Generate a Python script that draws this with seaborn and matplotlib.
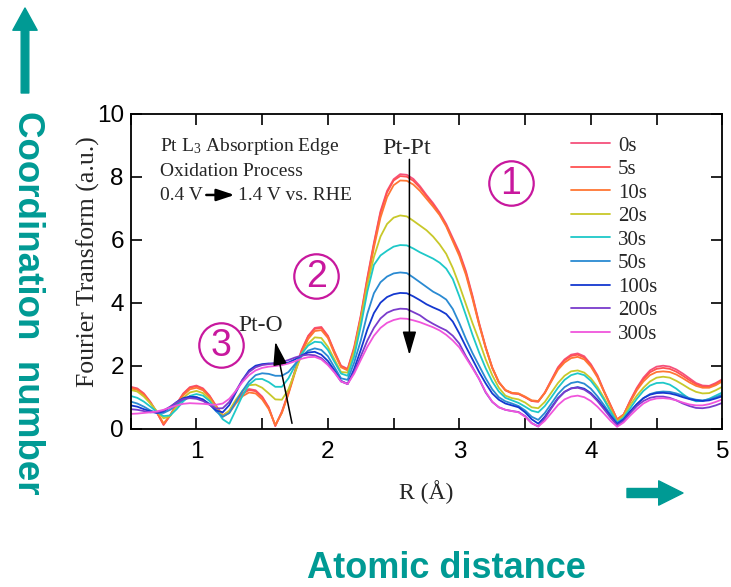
import numpy as np
import pandas as pd
import matplotlib
matplotlib.use("Agg")
import matplotlib.pyplot as plt
from matplotlib.ticker import MultipleLocator
import seaborn as sns

# Radial distance grid (Å)
R = [0.50, 0.55, 0.60, 0.65, 0.70, 0.75, 0.80, 0.85, 0.90, 0.95,
     1.00, 1.05, 1.10, 1.15, 1.20, 1.25, 1.30, 1.35, 1.40, 1.45,
     1.50, 1.55, 1.60, 1.65, 1.70, 1.75, 1.80, 1.85, 1.90, 1.95,
     2.00, 2.05, 2.10, 2.15, 2.20, 2.25, 2.30, 2.35, 2.40, 2.45,
     2.50, 2.55, 2.60, 2.65, 2.70, 2.75, 2.80, 2.85, 2.90, 2.95,
     3.00, 3.05, 3.10, 3.15, 3.20, 3.25, 3.30, 3.35, 3.40, 3.45,
     3.50, 3.55, 3.60, 3.65, 3.70, 3.75, 3.80, 3.85, 3.90, 3.95,
     4.00, 4.05, 4.10, 4.15, 4.20, 4.25, 4.30, 4.35, 4.40, 4.45,
     4.50, 4.55, 4.60, 4.65, 4.70, 4.75, 4.80, 4.85, 4.90, 4.95,
     5.00]

# |FT| magnitude for each oxidation time
ft_0s = [1.33, 1.28, 1.12, 0.85, 0.52, 0.12, 0.42, 0.80, 1.12, 1.32,
         1.37, 1.28, 1.05, 0.72, 0.42, 0.55, 0.88, 1.13, 1.26, 1.22,
         1.02, 0.68, 0.08, 0.55, 1.15, 1.85, 2.50, 2.95, 3.20, 3.23,
         2.95, 2.45, 2.00, 1.90, 2.60, 3.60, 4.80, 5.90, 6.90, 7.55,
         7.92, 8.08, 8.06, 7.93, 7.70, 7.42, 7.16, 6.86, 6.50, 6.05,
         5.60, 5.00, 4.22, 3.36, 2.60, 1.95, 1.48, 1.22, 1.12, 1.10,
         1.00, 0.88, 0.86, 1.15, 1.55, 1.95, 2.20, 2.35, 2.39, 2.30,
         2.05, 1.70, 1.20, 0.75, 0.30, 0.45, 0.90, 1.30, 1.62, 1.85,
         1.97, 2.00, 1.97, 1.88, 1.75, 1.60, 1.45, 1.37, 1.36, 1.45,
         1.57]
ft_5s = [1.31, 1.26, 1.10, 0.83, 0.50, 0.13, 0.42, 0.79, 1.10, 1.30,
         1.35, 1.26, 1.03, 0.71, 0.42, 0.55, 0.86, 1.10, 1.23, 1.19,
         1.00, 0.66, 0.10, 0.52, 1.13, 1.83, 2.47, 2.93, 3.17, 3.20,
         2.93, 2.43, 1.98, 1.88, 2.55, 3.55, 4.75, 5.85, 6.85, 7.50,
         7.88, 8.02, 8.00, 7.87, 7.65, 7.38, 7.12, 6.82, 6.45, 6.00,
         5.55, 4.95, 4.18, 3.33, 2.58, 1.93, 1.47, 1.22, 1.13, 1.11,
         1.00, 0.88, 0.86, 1.14, 1.53, 1.92, 2.17, 2.31, 2.35, 2.26,
         2.02, 1.67, 1.19, 0.74, 0.29, 0.45, 0.88, 1.27, 1.57, 1.79,
         1.90, 1.93, 1.90, 1.81, 1.68, 1.54, 1.41, 1.34, 1.33, 1.42,
         1.54]
ft_10s = [1.28, 1.23, 1.07, 0.82, 0.52, 0.17, 0.42, 0.76, 1.06, 1.25,
          1.30, 1.22, 1.00, 0.70, 0.38, 0.50, 0.80, 1.03, 1.15, 1.12,
          0.93, 0.62, 0.12, 0.50, 1.10, 1.78, 2.40, 2.85, 3.10, 3.13,
          2.88, 2.38, 1.95, 1.85, 2.50, 3.50, 4.65, 5.75, 6.70, 7.35,
          7.73, 7.88, 7.87, 7.75, 7.55, 7.30, 7.05, 6.78, 6.42, 5.95,
          5.48, 4.88, 4.12, 3.30, 2.56, 1.93, 1.48, 1.23, 1.14, 1.12,
          1.02, 0.90, 0.88, 1.13, 1.50, 1.87, 2.10, 2.24, 2.28, 2.20,
          1.97, 1.63, 1.17, 0.72, 0.28, 0.45, 0.85, 1.22, 1.50, 1.70,
          1.80, 1.82, 1.80, 1.72, 1.60, 1.47, 1.36, 1.30, 1.30, 1.38,
          1.50]
ft_20s = [1.23, 1.18, 1.02, 0.80, 0.55, 0.33, 0.40, 0.70, 0.98, 1.15,
          1.20, 1.13, 0.93, 0.65, 0.40, 0.58, 0.92, 1.20, 1.38, 1.40,
          1.30, 1.12, 0.93, 0.92, 1.25, 1.80, 2.35, 2.70, 2.90, 2.88,
          2.60, 2.20, 1.80, 1.78, 2.45, 3.45, 4.55, 5.45, 6.10, 6.50,
          6.70, 6.77, 6.74, 6.60, 6.45, 6.30, 6.10, 5.85, 5.55, 5.10,
          4.55, 3.95, 3.35, 2.80, 2.20, 1.70, 1.30, 1.05, 0.97, 0.93,
          0.83, 0.68, 0.65, 0.85, 1.15, 1.45, 1.68, 1.82, 1.85, 1.78,
          1.60, 1.33, 0.98, 0.60, 0.22, 0.40, 0.75, 1.05, 1.30, 1.50,
          1.62, 1.65, 1.62, 1.52, 1.40, 1.27, 1.17, 1.12, 1.13, 1.22,
          1.33]
ft_30s = [1.04, 0.98, 0.86, 0.70, 0.53, 0.40, 0.42, 0.62, 0.87, 1.04,
          1.10, 1.05, 0.88, 0.60, 0.30, 0.16, 0.60, 1.05, 1.40, 1.57,
          1.58, 1.48, 1.33, 1.33, 1.60, 2.00, 2.38, 2.64, 2.76, 2.74,
          2.50, 2.12, 1.75, 1.68, 2.30, 3.25, 4.35, 5.20, 5.50, 5.65,
          5.78, 5.83, 5.82, 5.72, 5.60, 5.50, 5.40, 5.27, 5.08, 4.75,
          4.20, 3.60, 2.98, 2.42, 1.92, 1.50, 1.18, 0.98, 0.90, 0.82,
          0.70, 0.57, 0.52, 0.72, 1.00, 1.30, 1.55, 1.70, 1.76, 1.70,
          1.52, 1.25, 0.92, 0.55, 0.20, 0.35, 0.65, 0.95, 1.20, 1.37,
          1.45, 1.46, 1.40, 1.27, 1.10, 0.95, 0.87, 0.88, 0.95, 1.05,
          1.15]
ft_50s = [0.86, 0.80, 0.70, 0.58, 0.50, 0.50, 0.60, 0.77, 0.92, 1.00,
          1.00, 0.93, 0.78, 0.55, 0.38, 0.50, 0.85, 1.20, 1.50, 1.70,
          1.76, 1.74, 1.68, 1.68, 1.80, 2.05, 2.30, 2.48, 2.55, 2.50,
          2.30, 1.95, 1.60, 1.55, 2.10, 2.80, 3.65, 4.30, 4.65, 4.83,
          4.93, 4.96, 4.94, 4.80, 4.65, 4.50, 4.35, 4.24, 4.10, 3.80,
          3.35, 2.85, 2.40, 2.00, 1.60, 1.25, 1.00, 0.87, 0.80, 0.72,
          0.58, 0.38, 0.28, 0.50, 0.80, 1.10, 1.32, 1.45, 1.49, 1.43,
          1.27, 1.03, 0.75, 0.45, 0.18, 0.30, 0.55, 0.78, 0.97, 1.10,
          1.16, 1.18, 1.17, 1.12, 1.05, 0.97, 0.92, 0.90, 0.93, 1.00,
          1.08]
ft_100s = [0.74, 0.70, 0.62, 0.55, 0.50, 0.55, 0.68, 0.85, 0.97, 1.02,
           1.00, 0.92, 0.77, 0.58, 0.52, 0.75, 1.15, 1.55, 1.85, 2.00,
           2.05, 2.07, 2.07, 2.07, 2.10, 2.20, 2.33, 2.42, 2.44, 2.35,
           2.15, 1.85, 1.52, 1.42, 1.90, 2.50, 3.15, 3.67, 4.00, 4.18,
           4.27, 4.31, 4.30, 4.20, 4.08, 3.95, 3.85, 3.76, 3.64, 3.40,
           3.02, 2.60, 2.20, 1.80, 1.44, 1.12, 0.92, 0.80, 0.74, 0.68,
           0.52, 0.30, 0.16, 0.38, 0.68, 0.97, 1.17, 1.28, 1.32, 1.27,
           1.13, 0.92, 0.67, 0.40, 0.15, 0.30, 0.55, 0.78, 0.97, 1.08,
           1.13, 1.14, 1.12, 1.07, 1.00, 0.94, 0.90, 0.88, 0.90, 0.96,
           1.03]
ft_200s = [0.62, 0.60, 0.56, 0.52, 0.52, 0.58, 0.70, 0.84, 0.94, 0.97,
           0.95, 0.88, 0.76, 0.64, 0.65, 0.85, 1.20, 1.55, 1.80, 1.95,
           2.02, 2.05, 2.08, 2.12, 2.18, 2.26, 2.32, 2.35, 2.33, 2.24,
           2.05, 1.80, 1.50, 1.42, 1.80, 2.30, 2.80, 3.20, 3.50, 3.68,
           3.77, 3.81, 3.80, 3.70, 3.60, 3.45, 3.33, 3.22, 3.12, 2.95,
           2.70, 2.30, 1.95, 1.58, 1.15, 0.85, 0.68, 0.60, 0.56, 0.53,
           0.40, 0.18, 0.07, 0.33, 0.65, 0.95, 1.17, 1.28, 1.30, 1.24,
           1.10, 0.88, 0.62, 0.35, 0.10, 0.25, 0.50, 0.72, 0.88, 0.98,
           1.02, 1.02, 0.98, 0.90, 0.80, 0.72, 0.66, 0.65, 0.68, 0.74,
           0.82]
ft_300s = [0.47, 0.48, 0.50, 0.52, 0.55, 0.60, 0.67, 0.74, 0.79, 0.81,
           0.80, 0.79, 0.77, 0.76, 0.80, 0.95, 1.20, 1.48, 1.70, 1.85,
           1.93, 1.97, 1.99, 2.02, 2.07, 2.14, 2.22, 2.27, 2.28, 2.20,
           2.02, 1.78, 1.50, 1.42, 1.75, 2.18, 2.60, 2.95, 3.20, 3.36,
           3.45, 3.50, 3.49, 3.44, 3.38, 3.30, 3.22, 3.12, 2.98, 2.80,
           2.58, 2.25, 1.92, 1.58, 1.17, 0.86, 0.68, 0.60, 0.56, 0.52,
           0.38, 0.17, 0.07, 0.25, 0.50, 0.75, 0.93, 1.02, 1.05, 1.00,
           0.88, 0.70, 0.48, 0.25, 0.06, 0.20, 0.42, 0.62, 0.80, 0.91,
           0.96, 0.97, 0.95, 0.90, 0.83, 0.77, 0.74, 0.74, 0.78, 0.85,
           0.93]

times = ["0s", "5s", "10s", "20s", "30s", "50s", "100s", "200s", "300s"]
series = [ft_0s, ft_5s, ft_10s, ft_20s, ft_30s, ft_50s, ft_100s, ft_200s, ft_300s]
colors = ["#f5507c", "#ff5252", "#ff7633", "#c8c82a", "#1ec8c8",
          "#2a8ad2", "#1438d0", "#7a3ccc", "#f055dc"]

df = pd.DataFrame({
    "R": np.concatenate([R] * len(times)),
    "FT": np.concatenate(series),
    "time": np.repeat(times, len(R)),
})

sns.set_theme(style="ticks")
plt.rcParams["font.family"] = ["Liberation Serif", "DejaVu Serif"]
plt.rcParams["mathtext.fontset"] = "custom"
plt.rcParams["mathtext.rm"] = "Liberation Serif"
plt.rcParams["mathtext.it"] = "Liberation Serif:italic"

teal = "#009a94"
magenta = "#c8189e"
W, H = 731, 587

fig = plt.figure(figsize=(W / 100, H / 100), dpi=100)
ax = fig.add_axes([130.7 / W, (H - 428.7) / H, (722.3 - 130.7) / W, (428.7 - 113.7) / H])

sns.lineplot(data=df, x="R", y="FT", hue="time", hue_order=times,
             palette=colors, linewidth=1.3, estimator=None, sort=False, ax=ax)

ax.set_xlim(0.5, 5)
ax.set_ylim(0, 10)
ax.xaxis.set_major_locator(MultipleLocator(1))
ax.xaxis.set_minor_locator(MultipleLocator(0.5))
ax.yaxis.set_major_locator(MultipleLocator(2))
ax.tick_params(which="both", direction="in", length=8, width=1.2,
               top=True, right=True, colors="black")
ax.tick_params(axis="x", pad=9)
ax.tick_params(axis="y", pad=5)
for lab in ax.get_xticklabels() + ax.get_yticklabels():
    lab.set_fontfamily("Liberation Sans")
    lab.set_fontsize(17.5)
for sp in ax.spines.values():
    sp.set_linewidth(1.3)
    sp.set_color("black")

ax.set_xlabel("R (Å)", fontsize=17, labelpad=12)
ax.set_ylabel("Fourier Transform (a.u.)", fontsize=18.5, labelpad=2)
ax.yaxis.set_label_coords(-0.052, 0.53)

handles, labels = ax.get_legend_handles_labels()
ax.legend(handles, labels, loc="upper left", bbox_to_anchor=(571 / W, (H - 136) / H),
          bbox_transform=fig.transFigure, frameon=False, fontsize=15,
          handlelength=1.85, handletextpad=0.4, labelspacing=0.19,
          borderpad=0, borderaxespad=0)

# Experiment notes
note_fs = 14
ax.text(0.723, 8.97, "Pt L$_3$ Absorption Edge", fontsize=note_fs, va="center", ha="left")
ax.text(0.723, 8.15, "Oxidation Process", fontsize=note_fs, va="center", ha="left")
ax.text(0.723, 7.40, "0.4 V", fontsize=note_fs, va="center", ha="left")
ax.text(1.315, 7.40, "1.4 V vs. RHE", fontsize=note_fs, va="center", ha="left")
ax.annotate("", xy=(1.29, 7.42), xytext=(1.075, 7.42),
            arrowprops=dict(arrowstyle="-|>,head_length=0.9,head_width=0.3",
                            color="black", lw=1.8, shrinkA=0, shrinkB=0))

# Peak assignments
ax.text(2.60, 8.88, "Pt-Pt", fontsize=17.5, ha="center", va="center")
ax.annotate("", xy=(2.62, 2.34), xytext=(2.62, 8.55),
            arrowprops=dict(arrowstyle="-|>,head_length=1.2,head_width=0.35",
                            color="black", lw=1.1, shrinkA=0, shrinkB=0))
ax.text(1.49, 3.28, "Pt-O", fontsize=17, ha="center", va="center")
ax.annotate("", xy=(1.60, 2.76), xytext=(1.727, 0.17),
            arrowprops=dict(arrowstyle="-|>,head_length=1.2,head_width=0.35",
                            color="black", lw=1.1, shrinkA=0, shrinkB=0))

# Circled region labels
for num, rx, ry in [("1", 3.39, 7.8), ("2", 1.91, 4.84), ("3", 1.19, 2.66)]:
    ax.plot([rx], [ry], marker="o", ms=32, mfc="none", mec=magenta, mew=1.6,
            linestyle="none", zorder=5)
    ax.text(rx, ry - 0.03, num, fontsize=27, color=magenta, ha="center", va="center",
            family="Liberation Sans", zorder=5)

# Outer guide arrows and captions
fig.text(27 / W, 1 - 303 / H, "Coordination  number", rotation=-90, color=teal,
         fontsize=26.5, fontweight="bold", family="Liberation Sans",
         ha="center", va="center")
fig.text(446 / W, 1 - 578 / H, "Atomic distance", color=teal,
         fontsize=26, fontweight="bold", family="Liberation Sans",
         ha="center", va="baseline")
ax.annotate("", xy=(25, H - 8), xytext=(25, H - 93), xycoords="figure pixels",
            textcoords="figure pixels",
            arrowprops=dict(arrowstyle="simple,head_length=1.6,head_width=1.75,tail_width=0.55",
                            mutation_scale=10, color=teal, shrinkA=0, shrinkB=0))
ax.annotate("", xy=(683, H - 493), xytext=(627, H - 493), xycoords="figure pixels",
            textcoords="figure pixels",
            arrowprops=dict(arrowstyle="simple,head_length=1.75,head_width=1.75,tail_width=0.65",
                            mutation_scale=10, color=teal, shrinkA=0, shrinkB=0))

fig.savefig("out.png", dpi=100)
